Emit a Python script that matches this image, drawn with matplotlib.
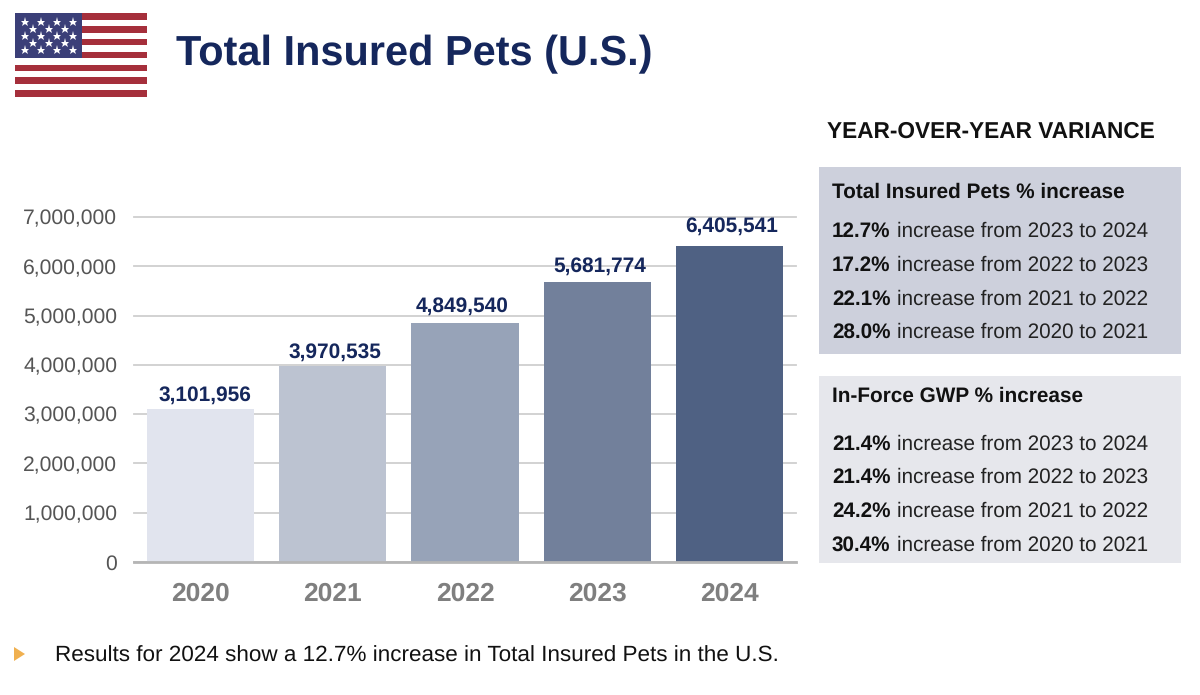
import matplotlib
matplotlib.use('Agg')
import matplotlib.pyplot as plt
from matplotlib.patches import Rectangle, Polygon
from matplotlib.ticker import FuncFormatter

plt.rcParams['font.family'] = ['Liberation Sans', 'DejaVu Sans']
plt.rcParams['text.hinting'] = 'no_hinting'

years = ['2020', '2021', '2022', '2023', '2024']
insured_pets = [3101956, 3970535, 4849540, 5681774, 6405541]
bar_colors = ['#E1E4EE', '#BCC3D1', '#97A3B8', '#72809B', '#4F6183']
y_ticks = [0, 1000000, 2000000, 3000000, 4000000, 5000000, 6000000, 7000000]

pets_title = 'Total Insured Pets % increase'
pets_pct = ['12.7%', '17.2%', '22.1%', '28.0%']
gwp_title = 'In-Force GWP % increase'
gwp_pct = ['21.4%', '21.4%', '24.2%', '30.4%']
periods = ['increase from 2023 to 2024', 'increase from 2022 to 2023',
           'increase from 2021 to 2022', 'increase from 2020 to 2021']

NAVY = '#15275C'
W, H = 1200, 695

fig = plt.figure(figsize=(W / 100, H / 100), dpi=100)

# chart
ax = fig.add_axes([134 / W, 1 - 562 / H, (796 - 134) / W, (562 - 217) / H])
ax.set_axisbelow(True)
ax.bar(range(5), insured_pets, width=0.81, color=bar_colors, zorder=2)
ax.set_xlim(-0.5, 4.5)
ax.set_ylim(0, 7000000)
ax.set_yticks(y_ticks)
ax.yaxis.set_major_formatter(FuncFormatter(lambda v, p: f'{int(v):,}'))
ax.set_xticks(range(5))
ax.set_xticklabels(years, fontsize=19, fontweight='bold', color='#7F7F7F')
ax.tick_params(axis='x', length=0, pad=14)
ax.tick_params(axis='y', length=0, pad=12, labelsize=15.2, labelcolor='#555555')
ax.grid(axis='y', color='#CFCFCF', linewidth=1.3)
for line in ax.get_ygridlines():
    line.set_clip_on(False)
for label in ax.get_yticklabels():
    label.set_verticalalignment('center_baseline')
for side in ['top', 'right', 'left']:
    ax.spines[side].set_visible(False)
ax.spines['bottom'].set_color('#B5B5B5')
ax.spines['bottom'].set_linewidth(2)
# labels are a little off centre and at uneven heights in the original
nudges = [(3.6, 3), (2, 3), (-2, 5), (2, 4.5), (1.5, 7)]
for i, (v, nudge) in enumerate(zip(insured_pets, nudges)):
    ax.annotate(f'{v:,}', (i, v), xytext=nudge, textcoords='offset points',
                ha='center', va='bottom', fontsize=15, fontweight='bold', color=NAVY, zorder=3)

# everything else is placed in pixels
page = fig.add_axes([0, 0, 1, 1], facecolor='none')
page.set_xlim(0, W)
page.set_ylim(H, 0)
page.axis('off')

# flag
for top, bottom in [(13, 20), (26, 33), (39, 45), (52, 58), (65, 71), (77, 84), (90, 97)]:
    page.add_patch(Rectangle((15, top), 132, bottom - top, color='#A52F3B', lw=0))
page.add_patch(Rectangle((15, 13), 67, 45, color='#3B3F78', lw=0))
for row, y in enumerate([22, 29, 36, 43, 50]):
    xs = [24.5, 40.5, 56.5, 72.5] if row % 2 == 0 else [32.5, 48.5, 64.5]
    page.plot(xs, [y] * len(xs), ls='', marker='*', ms=6.5, color='white', mew=0)

page.text(176, 65.5, 'Total Insured Pets (U.S.)', fontsize=29.9, fontweight='bold',
          color=NAVY, va='baseline', ha='left')
page.text(827, 138, 'YEAR-OVER-YEAR VARIANCE', fontsize=16.25, fontweight='bold',
          color='#111111', va='baseline', ha='left')

# variance panels
page.add_patch(Rectangle((819, 167), 362, 187, color='#CDD0DC', lw=0))
page.add_patch(Rectangle((819, 376), 362, 187, color='#E6E7EC', lw=0))
page.text(832, 198, pets_title, fontsize=14.95, fontweight='bold', color='#111111', va='baseline')
page.text(832, 402, gwp_title, fontsize=14.95, fontweight='bold', color='#111111', va='baseline')
for y, pct, period in zip([237, 271, 305, 338], pets_pct, periods):
    page.text(832, y, pct, fontsize=14.85, fontweight='bold', color='#111111', va='baseline')
    page.text(897, y, period, fontsize=14.85, color='#222222', va='baseline')
for y, pct, period in zip([450, 483, 517, 551], gwp_pct, periods):
    page.text(832, y, pct, fontsize=14.85, fontweight='bold', color='#111111', va='baseline')
    page.text(897, y, period, fontsize=14.85, color='#222222', va='baseline')

# footnote
page.add_patch(Polygon([(14, 647), (25, 654), (14, 661)], color='#F0B04F', lw=0))
page.text(55, 661.5, 'Results for 2024 show a 12.7% increase in Total Insured Pets in the U.S.',
          fontsize=16.2, color='#111111', va='baseline')

fig.savefig('out.png', dpi=100)
